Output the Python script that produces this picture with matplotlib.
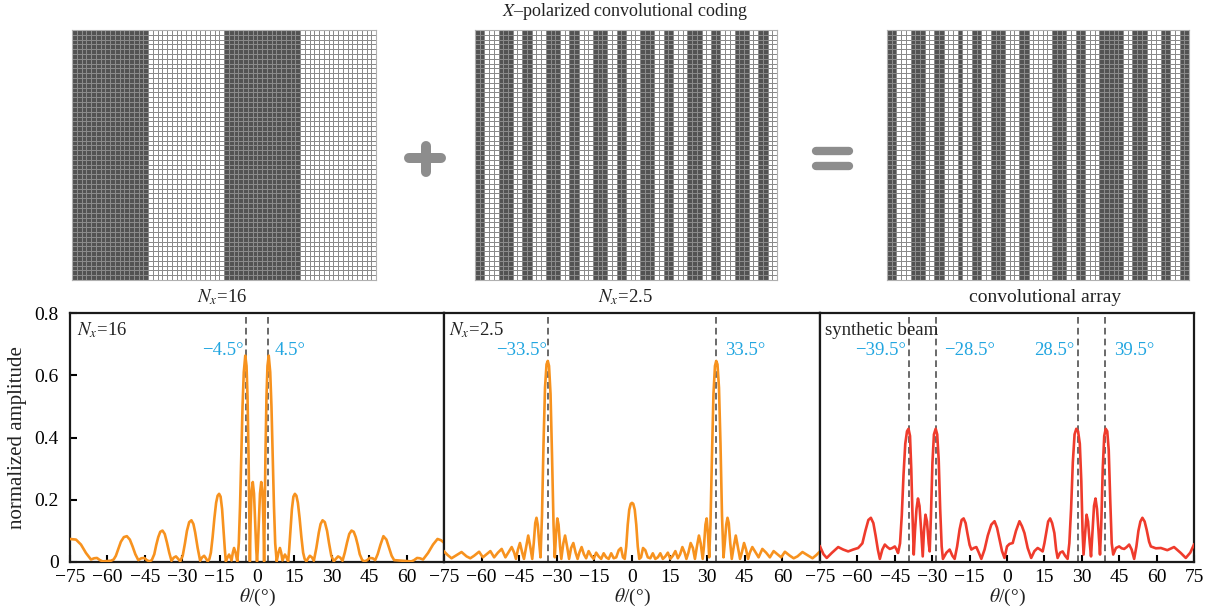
import numpy as np
import matplotlib
matplotlib.use("Agg")
import matplotlib.pyplot as plt
from matplotlib.colors import ListedColormap

plt.rcParams['font.family'] = ['Liberation Serif', 'DejaVu Serif']
plt.rcParams['mathtext.fontset'] = 'stix'

W, H = 1212, 609

# ---------------- coding sequences (1 = dark element) ----------------
code_nx16 = "1111111111111111000000000000000011111111111111110000000000000000"
code_nx25 = "1100011100110001110011000111001100011100110001110011000111001100"
code_conv = "1100011100110001001100111000110000011100110001111100111000110011"
n_rows = 52

# ---------------- far-field patterns: (theta in degrees, normalized amplitude) ----------------
pattern_nx16 = [
    (-75, 0.074), (-72.6, 0.072), (-70.6, 0.056), (-68.6, 0.029), (-66.6, 0.008), (-65.3, 0.012),
    (-64.2, 0.013), (-63, 0.006), (-61.9, 0.002), (-58.6, 0.004), (-57.5, 0.008), (-56.6, 0.02),
    (-55.5, 0.045), (-54.6, 0.065), (-53.4, 0.08), (-52.2, 0.083), (-51, 0.072), (-49.9, 0.05),
    (-48.8, 0.025), (-47.6, 0.006), (-46.4, 0.012), (-45.2, 0.013), (-44.2, 0.006), (-43.2, 0.002),
    (-42.2, 0.006), (-41.2, 0.025), (-40.4, 0.055), (-39.6, 0.08), (-38.8, 0.097), (-37.9, 0.101),
    (-37, 0.09), (-36.1, 0.062), (-35.2, 0.03), (-34.3, 0.004), (-33.4, 0.014), (-32.5, 0.018),
    (-31.6, 0.01), (-30.8, 0.002), (-29.8, 0.02), (-28.9, 0.06), (-28.1, 0.1), (-27.2, 0.128),
    (-26.3, 0.134), (-25.5, 0.122), (-24.8, 0.095), (-23.8, 0.045), (-22.8, 0.004), (-22, 0.015),
    (-21.2, 0.02), (-20.5, 0.012), (-19.8, 0.002), (-19.1, 0.01), (-18.5, 0.03), (-17.8, 0.08),
    (-17.1, 0.14), (-16.4, 0.19), (-15.8, 0.213), (-15.2, 0.219), (-14.6, 0.21), (-14, 0.17),
    (-13.4, 0.1), (-12.9, 0.04), (-12.5, 0.002), (-11.8, 0.015), (-11.2, 0.024), (-10.7, 0.015),
    (-10.2, 0.005), (-9.7, 0.03), (-9.2, 0.045), (-8.6, 0.03), (-7.9, 0.002), (-7.3, 0.06),
    (-6.8, 0.18), (-6.3, 0.34), (-5.8, 0.5), (-5.3, 0.61), (-4.7, 0.663), (-4.2, 0.63),
    (-3.8, 0.53), (-3.4, 0.35), (-3.1, 0.15), (-2.85, 0.002), (-2.6, 0.12), (-2.2, 0.225),
    (-1.7, 0.257), (-1.2, 0.22), (-0.7, 0.12), (-0.3, 0.04), (0, 0.002),
    (0.3, 0.04), (0.7, 0.12), (1.2, 0.22), (1.7, 0.257), (2.2, 0.225), (2.6, 0.12), (2.85, 0.002),
    (3.1, 0.15), (3.4, 0.35), (3.8, 0.53), (4.2, 0.63), (4.7, 0.663), (5.3, 0.61), (5.8, 0.5),
    (6.3, 0.34), (6.8, 0.18), (7.3, 0.06), (7.9, 0.002), (8.6, 0.03), (9.2, 0.045), (9.7, 0.03),
    (10.2, 0.005), (10.7, 0.015), (11.2, 0.024), (11.8, 0.015), (12.5, 0.002), (12.9, 0.04),
    (13.4, 0.1), (14, 0.17), (14.6, 0.21), (15.2, 0.219), (15.8, 0.213), (16.4, 0.19),
    (17.1, 0.14), (17.8, 0.08), (18.5, 0.03), (19.1, 0.01), (19.8, 0.002), (20.5, 0.012),
    (21.2, 0.02), (22, 0.015), (22.8, 0.004), (23.8, 0.045), (24.8, 0.095), (25.5, 0.122),
    (26.3, 0.134), (27.2, 0.128), (28.1, 0.1), (28.9, 0.06), (29.8, 0.02), (30.8, 0.002),
    (31.6, 0.01), (32.5, 0.018), (33.4, 0.014), (34.3, 0.004), (35.2, 0.03), (36.1, 0.062),
    (37, 0.09), (37.9, 0.101), (38.8, 0.097), (39.6, 0.08), (40.4, 0.055), (41.2, 0.025),
    (42.2, 0.006), (43.2, 0.002), (44.2, 0.006), (45.2, 0.013), (46.4, 0.012), (47.4, 0.006),
    (48.4, 0.025), (49.5, 0.055), (50.7, 0.083), (51.9, 0.072), (53, 0.045), (54, 0.02),
    (55, 0.006), (58.6, 0.004), (61.9, 0.002), (63, 0.006), (64.2, 0.013), (65.3, 0.012),
    (66.6, 0.008), (68.6, 0.029), (70.6, 0.056), (72.4, 0.074), (73.8, 0.07), (75, 0.062),
]

pattern_nx25 = [
    (-75, 0.034), (-73.5, 0.022), (-72, 0.012), (-70, 0.022), (-68, 0.032), (-66, 0.018),
    (-64.5, 0.012), (-63, 0.02), (-61, 0.033), (-59.5, 0.015), (-58, 0.025), (-56.5, 0.035),
    (-55, 0.015), (-53.5, 0.03), (-52, 0.042), (-50.5, 0.015), (-49, 0.035), (-48, 0.048),
    (-47, 0.03), (-46.3, 0.01), (-45.5, 0.04), (-44.7, 0.061), (-43.8, 0.03), (-43.1, 0.01),
    (-42.2, 0.05), (-41.4, 0.085), (-40.6, 0.05), (-39.8, 0.01), (-39.2, 0.06), (-38.6, 0.125),
    (-38.1, 0.142), (-37.6, 0.12), (-37, 0.06), (-36.5, 0.015), (-35.9, 0.15), (-35.3, 0.38),
    (-34.7, 0.56), (-34.1, 0.635), (-33.6, 0.646), (-33.1, 0.63), (-32.5, 0.54), (-31.9, 0.34),
    (-31.3, 0.12), (-30.8, 0.015), (-30.3, 0.09), (-29.8, 0.14), (-29.3, 0.12), (-28.7, 0.05),
    (-28.2, 0.01), (-27.4, 0.06), (-26.7, 0.085), (-25.9, 0.05), (-25.1, 0.01), (-24.3, 0.045),
    (-23.4, 0.061), (-22.5, 0.03), (-21.7, 0.01), (-21, 0.03), (-20.1, 0.048), (-19.2, 0.025),
    (-18.3, 0.012), (-17.3, 0.035), (-16.3, 0.02), (-15.3, 0.01), (-14.3, 0.03), (-13.3, 0.018),
    (-12.3, 0.01), (-11.3, 0.028), (-10.3, 0.015), (-9.3, 0.01), (-8.3, 0.028), (-7.3, 0.012),
    (-6.3, 0.015), (-5.3, 0.038), (-4.4, 0.045), (-3.6, 0.015), (-2.9, 0.01), (-2.3, 0.05),
    (-1.7, 0.12), (-1.1, 0.168), (-0.5, 0.187), (0, 0.19),
    (0.5, 0.187), (1.1, 0.168), (1.7, 0.12), (2.3, 0.05), (2.9, 0.01), (3.6, 0.015), (4.4, 0.045),
    (5.3, 0.038), (6.3, 0.015), (7.3, 0.012), (8.3, 0.028), (9.3, 0.01), (10.3, 0.015),
    (11.3, 0.028), (12.3, 0.01), (13.3, 0.018), (14.3, 0.03), (15.3, 0.01), (16.3, 0.02),
    (17.3, 0.035), (18.3, 0.012), (19.2, 0.025), (20.1, 0.048), (21, 0.03), (21.7, 0.01),
    (22.5, 0.03), (23.4, 0.061), (24.3, 0.045), (25.1, 0.01), (25.9, 0.05), (26.7, 0.085),
    (27.4, 0.06), (28.2, 0.01), (28.7, 0.05), (29.3, 0.12), (29.8, 0.14), (30.3, 0.09),
    (30.8, 0.015), (31.3, 0.12), (31.9, 0.34), (32.5, 0.54), (33.1, 0.63), (33.6, 0.646),
    (34.1, 0.635), (34.7, 0.56), (35.3, 0.38), (35.9, 0.15), (36.5, 0.015), (37, 0.06),
    (37.6, 0.12), (38.1, 0.142), (38.6, 0.125), (39.2, 0.06), (39.8, 0.01), (40.6, 0.05),
    (41.4, 0.085), (42.2, 0.05), (43.1, 0.01), (43.8, 0.03), (44.7, 0.061), (45.5, 0.04),
    (46.3, 0.01), (47, 0.03), (48, 0.048), (49, 0.035), (50.5, 0.015), (52, 0.042), (53.5, 0.03),
    (55, 0.015), (56.5, 0.035), (58, 0.025), (59.5, 0.015), (61, 0.033), (63, 0.02),
    (64.5, 0.012), (66, 0.018), (68, 0.032), (70, 0.022), (72, 0.012), (73.5, 0.022), (75, 0.034),
]

pattern_conv = [
    (-75, 0.05), (-73.6, 0.025), (-72.3, 0.013), (-70.3, 0.029), (-67.7, 0.048), (-65.7, 0.04),
    (-63.7, 0.034), (-61.7, 0.04), (-59.7, 0.045), (-58, 0.06), (-56.8, 0.1), (-55.6, 0.135),
    (-54.6, 0.142), (-53.6, 0.125), (-52.7, 0.085), (-51.8, 0.04), (-51, 0.01), (-50, 0.04),
    (-49, 0.056), (-48, 0.048), (-47, 0.042), (-46, 0.045), (-45, 0.05), (-44.3, 0.04),
    (-43.7, 0.029), (-42.9, 0.06), (-42.2, 0.15), (-41.5, 0.28), (-40.8, 0.38), (-40.1, 0.42),
    (-39.5, 0.428), (-38.9, 0.405), (-38.4, 0.3), (-37.9, 0.15), (-37.4, 0.024), (-36.9, 0.1),
    (-36.3, 0.17), (-35.7, 0.204), (-35.1, 0.18), (-34.5, 0.11), (-33.8, 0.018), (-33.3, 0.1),
    (-32.7, 0.152), (-32.1, 0.13), (-31.4, 0.06), (-31, 0.034), (-30.5, 0.15), (-29.9, 0.32),
    (-29.3, 0.41), (-28.6, 0.428), (-28, 0.41), (-27.4, 0.33), (-26.8, 0.17), (-26.2, 0.05),
    (-25.7, 0.01), (-24.3, 0.03), (-23, 0.04), (-21.9, 0.02), (-21, 0.01), (-20, 0.05),
    (-19, 0.105), (-18.2, 0.135), (-17.4, 0.14), (-16.6, 0.125), (-15.9, 0.093), (-15, 0.055),
    (-14.3, 0.04), (-13.3, 0.045), (-12.3, 0.048), (-11.3, 0.03), (-10.3, 0.01), (-9, 0.04),
    (-7.7, 0.085), (-6.3, 0.12), (-5, 0.131), (-4, 0.11), (-3, 0.072), (-2, 0.035), (-1, 0.013),
    (0, 0.05), (1, 0.058), (2.3, 0.061), (3.6, 0.1), (5, 0.131), (6, 0.115), (7, 0.093),
    (8.3, 0.045), (9.7, 0.013), (11, 0.035), (12.3, 0.045), (13.3, 0.04), (14.3, 0.034),
    (15, 0.06), (15.7, 0.093), (16.5, 0.13), (17.3, 0.14), (18.1, 0.125), (19, 0.093),
    (19.7, 0.04), (20.3, 0.013), (21.3, 0.03), (22.3, 0.034), (23.3, 0.02), (24.3, 0.01),
    (25, 0.06), (25.7, 0.17), (26.4, 0.32), (27.1, 0.41), (27.8, 0.428), (28.5, 0.42),
    (29.2, 0.38), (29.8, 0.26), (30.3, 0.1), (30.7, 0.024), (31.3, 0.09), (31.9, 0.152),
    (32.5, 0.13), (33.2, 0.06), (33.7, 0.018), (34.3, 0.1), (34.9, 0.18), (35.5, 0.204),
    (36.1, 0.17), (36.7, 0.1), (37.3, 0.024), (37.8, 0.12), (38.4, 0.3), (39, 0.405),
    (39.6, 0.428), (40.2, 0.42), (40.8, 0.36), (41.4, 0.2), (42, 0.06), (42.6, 0.024),
    (43.7, 0.045), (45, 0.05), (46, 0.044), (47, 0.042), (48, 0.048), (49, 0.056), (50, 0.04),
    (51, 0.01), (51.9, 0.05), (52.7, 0.1), (53.5, 0.13), (54.3, 0.142), (55.2, 0.13),
    (56, 0.104), (57, 0.065), (57.7, 0.05), (59.7, 0.044), (61.7, 0.045), (64.3, 0.038),
    (67, 0.048), (69.7, 0.029), (71.7, 0.013), (73.5, 0.03), (75, 0.056),
]

beam_angles1 = [-4.5, 4.5]
beam_angles2 = [-33.5, 33.5]
beam_angles3 = [-39.5, -28.5, 28.5, 39.5]

xticks_mid = [-75, -60, -45, -30, -15, 0, 15, 30, 45, 60]
xticks_last = [-75, -60, -45, -30, -15, 0, 15, 30, 45, 60, 75]
yticks = [0, 0.2, 0.4, 0.6, 0.8]
ytick_labels = ['0', '0.2', '0.4', '0.6', '0.8']

ORANGE = '#f7921e'
RED = '#ef3b2c'
BLUE = '#22a6e0'
TXT = '#222222'
FS_TICK = 14
FS_NOTE = 13.5

fig = plt.figure(figsize=(W / 100, H / 100), dpi=100)


def rect(x0, y0, x1, y1):
    return [x0 / W, 1 - y1 / H, (x1 - x0) / W, (y1 - y0) / H]


def fx(x):
    return x / W


def fy(y):
    return 1 - y / H


# ---------------- coding pattern images ----------------
cmap = ListedColormap(['#ffffff', '#525252'])
for code, (x0, x1) in zip([code_nx16, code_nx25, code_conv],
                          [(72, 376), (475, 777), (887, 1189)]):
    axi = fig.add_axes(rect(x0, 30, x1, 280))
    row = np.array([int(c) for c in code])
    grid = np.tile(row, (n_rows, 1))
    axi.pcolormesh(grid, cmap=cmap, vmin=0, vmax=1, edgecolors='#8a8a8a', linewidth=0.55)
    axi.set_xlim(0, len(code))
    axi.set_ylim(0, n_rows)
    axi.set_xticks([])
    axi.set_yticks([])
    for s in axi.spines.values():
        s.set_color('#b0b0b0')
        s.set_linewidth(0.8)

# plus / equals signs
ovl = fig.add_axes([0, 0, 1, 1], zorder=-1)
ovl.set_xlim(0, W)
ovl.set_ylim(H, 0)
ovl.axis('off')
ovl.plot([409, 441], [158, 158], color='#8d8d8d', lw=7.2, solid_capstyle='round')
ovl.plot([425.5, 425.5], [146, 172], color='#8d8d8d', lw=7.2, solid_capstyle='round')
ovl.plot([816, 849], [150.5, 150.5], color='#8d8d8d', lw=6, solid_capstyle='round')
ovl.plot([816, 849], [165.5, 165.5], color='#8d8d8d', lw=6, solid_capstyle='round')

fig.text(fx(625), fy(12), r'$X$–polarized convolutional coding', ha='center', va='center',
         fontsize=13, color=TXT)
fig.text(fx(222), fy(297), r'$N_x$=16', ha='center', va='center', fontsize=13.5, color=TXT)
fig.text(fx(625), fy(297), r'$N_x$=2.5', ha='center', va='center', fontsize=13.5, color=TXT)
fig.text(fx(1045), fy(297), 'convolutional array', ha='center', va='center', fontsize=14,
         color=TXT)

# ---------------- far-field plots ----------------
panels = [
    dict(x=(70, 444), data=pattern_nx16, color=ORANGE, beams=beam_angles1, ticks=xticks_mid,
         label=r'$N_x$=16', lx=-72,
         notes=[(-5.3, '−4.5°', 'right'), (7.0, '4.5°', 'left')]),
    dict(x=(444, 820), data=pattern_nx25, color=ORANGE, beams=beam_angles2, ticks=xticks_mid,
         label=r'$N_x$=2.5', lx=-73,
         notes=[(-34.0, '−33.5°', 'right'), (37.3, '33.5°', 'left')]),
    dict(x=(820, 1194), data=pattern_conv, color=RED, beams=beam_angles3, ticks=xticks_last,
         label='synthetic beam', lx=-73,
         notes=[(-40.5, '−39.5°', 'right'), (-25.3, '−28.5°', 'left'),
                (27.0, '28.5°', 'right'), (43.0, '39.5°', 'left')]),
]

for i, p in enumerate(panels):
    ax = fig.add_axes(rect(p['x'][0], 313, p['x'][1], 562))
    th = [d[0] for d in p['data']]
    am = [d[1] for d in p['data']]
    ax.plot(th, am, color=p['color'], lw=1.9, solid_joinstyle='round', zorder=3)
    for b in p['beams']:
        ax.axvline(b, color='#505050', lw=1.2, dashes=(4, 2.5), zorder=2)
    ax.set_xlim(-75, 75)
    ax.set_ylim(0, 0.8)
    ax.set_xticks(p['ticks'])
    ax.set_xticklabels([str(t) if t >= 0 else '−' + str(-t) for t in p['ticks']])
    ax.tick_params(axis='x', direction='in', length=5, width=1.5, labelsize=FS_TICK, pad=5,
                   top=False)
    if i == 0:
        ax.set_yticks(yticks)
        ax.set_yticklabels(ytick_labels)
        ax.tick_params(axis='y', direction='in', length=5, width=1.5, labelsize=FS_TICK, pad=8,
                       right=False)
    else:
        ax.set_yticks([])
    for s in ax.spines.values():
        s.set_linewidth(1.6)
        s.set_color('#1a1a1a')
    ax.text(p['lx'], 0.745, p['label'], ha='left', va='center', fontsize=FS_NOTE, color=TXT)
    for (xx, t, ha) in p['notes']:
        ax.text(xx, 0.68, t, ha=ha, va='center', fontsize=FS_NOTE, color=BLUE)
    xc = (p['x'][0] + p['x'][1]) / 2
    fig.text(fx(xc), fy(597), r'$\theta$/(°)', ha='center', va='center', fontsize=FS_TICK,
             color=TXT)

fig.text(fx(18), fy(438), 'normalized amplitude', rotation=90, ha='center', va='center',
         fontsize=15, color=TXT)

fig.savefig('out.png', dpi=100)
